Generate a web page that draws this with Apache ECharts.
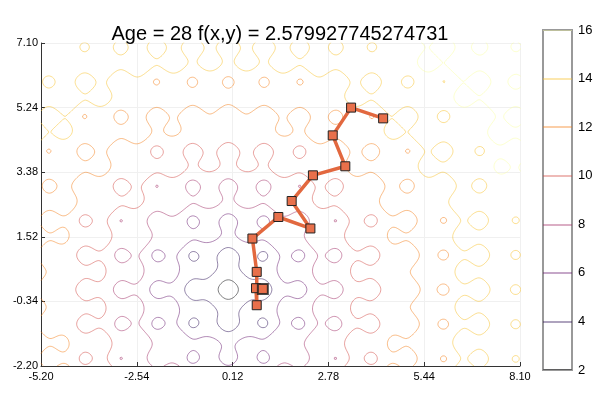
<!DOCTYPE html>
<html><head><meta charset="utf-8">
<script src="https://cdn.jsdelivr.net/npm/echarts@6/dist/echarts.min.js"></script>
<style>html,body{margin:0;padding:0;background:#fff}#c{width:600px;height:400px}</style>
</head><body><div id="c"></div>
<script>
// ---- data ----
const titleText = 'Age = 28 f(x,y) = 2.579927745274731';
const xRange = [-5.2, 8.1];
const yRange = [-2.2, 7.1];
const xInterval = 2.66;
const yInterval = 1.86;
const levels = [2, 4, 6, 8, 10, 12, 14, 16];
const levelColors = ['#000004', '#280b53', '#65156e', '#9f2a63', '#d44842', '#f57d15', '#fac228', '#fcffa4'];
// optimisation path, in visiting order
const pathX = [4.30, 3.41, 2.90, 3.25, 2.35, 1.76, 2.28, 1.39, 0.67, 0.79, 0.79, 0.77, 0.96];
const pathY = [4.93, 5.24, 4.44, 3.55, 3.29, 2.55, 1.76, 2.09, 1.47, 0.51, -0.45, 0.04, 0.02];

// surface: Ackley function
function ackley(x, y) {
  return -20 * Math.exp(-0.2 * Math.sqrt(0.5 * (x * x + y * y)))
    - Math.exp(0.5 * (Math.cos(2 * Math.PI * x) + Math.cos(2 * Math.PI * y))) + Math.E + 20;
}

// ---- contouring (marching squares) ----
const step = 0.04;
const nx = Math.round((xRange[1] - xRange[0]) / step) + 1;
const ny = Math.round((yRange[1] - yRange[0]) / step) + 1;
const gx = [], gy = [];
for (let i = 0; i < nx; i++) gx.push(xRange[0] + i * step);
for (let j = 0; j < ny; j++) gy.push(yRange[0] + j * step);
const F = new Float64Array(nx * ny);
for (let j = 0; j < ny; j++) for (let i = 0; i < nx; i++) F[j * nx + i] = ackley(gx[i], gy[j]);

function contour(L) {
  const pts = new Map();
  const segs = [];
  function edgePoint(key, x1, y1, v1, x2, y2, v2) {
    if (!pts.has(key)) {
      const t = (L - v1) / (v2 - v1);
      pts.set(key, [x1 + t * (x2 - x1), y1 + t * (y2 - y1)]);
    }
    return key;
  }
  for (let j = 0; j < ny - 1; j++) {
    for (let i = 0; i < nx - 1; i++) {
      const v00 = F[j * nx + i], v10 = F[j * nx + i + 1], v01 = F[(j + 1) * nx + i], v11 = F[(j + 1) * nx + i + 1];
      const b00 = v00 < L, b10 = v10 < L, b01 = v01 < L, b11 = v11 < L;
      const k0 = (b00 !== b10) ? edgePoint((j * nx + i) * 2, gx[i], gy[j], v00, gx[i + 1], gy[j], v10) : null;
      const k1 = (b10 !== b11) ? edgePoint((j * nx + i + 1) * 2 + 1, gx[i + 1], gy[j], v10, gx[i + 1], gy[j + 1], v11) : null;
      const k2 = (b01 !== b11) ? edgePoint(((j + 1) * nx + i) * 2, gx[i], gy[j + 1], v01, gx[i + 1], gy[j + 1], v11) : null;
      const k3 = (b00 !== b01) ? edgePoint((j * nx + i) * 2 + 1, gx[i], gy[j], v00, gx[i], gy[j + 1], v01) : null;
      const ks = [k0, k1, k2, k3].filter(k => k !== null);
      if (ks.length === 2) segs.push([ks[0], ks[1]]);
      else if (ks.length === 4) {
        const c = (v00 + v10 + v01 + v11) / 4;
        if ((c < L) === b00) { segs.push([k0, k1]); segs.push([k2, k3]); }
        else { segs.push([k0, k3]); segs.push([k1, k2]); }
      }
    }
  }
  const adj = new Map();
  segs.forEach((s, idx) => s.forEach(k => { if (!adj.has(k)) adj.set(k, []); adj.get(k).push(idx); }));
  const used = new Uint8Array(segs.length);
  const lines = [];
  function walk(start) {
    const out = [];
    let cur = start;
    while (true) {
      const list = adj.get(cur);
      let nxt = -1;
      for (const q of list) if (!used[q]) { nxt = q; break; }
      if (nxt < 0) break;
      used[nxt] = 1;
      const s = segs[nxt];
      cur = (s[0] === cur) ? s[1] : s[0];
      out.push(cur);
    }
    return out;
  }
  for (let s = 0; s < segs.length; s++) {
    if (used[s]) continue;
    used[s] = 1;
    const fwd = walk(segs[s][1]);
    const back = walk(segs[s][0]);
    const keys = back.reverse().concat([segs[s][0], segs[s][1]]).concat(fwd);
    lines.push(keys.map(k => pts.get(k)));
  }
  return lines;
}

const series = [];
levels.forEach((L, li) => {
  const lines = contour(L);
  series.push({
    type: 'lines', coordinateSystem: 'cartesian2d', xAxisIndex: 0, yAxisIndex: 0,
    polyline: true, silent: true, z: 2,
    lineStyle: { color: levelColors[li], width: 1, opacity: 0.5 },
    data: lines.map(c => ({ coords: c }))
  });
});

// colorbar level lines
series.push({
  type: 'lines', coordinateSystem: 'cartesian2d', xAxisIndex: 1, yAxisIndex: 1,
  polyline: false, silent: true, z: 3,
  data: levels.map((L, li) => ({ coords: [[0, L], [1, L]], lineStyle: { color: levelColors[li], width: 1.5, opacity: 0.5 } }))
});

const pathData = pathX.map((x, i) => [x, pathY[i]]);
series.push({
  type: 'line', xAxisIndex: 0, yAxisIndex: 0, z: 5,
  data: pathData,
  lineStyle: { color: '#e2683f', width: 3.5 },
  symbol: 'rect', symbolSize: 9, showAllSymbol: true,
  itemStyle: { color: '#e8704b', borderColor: '#222', borderWidth: 1 },
  silent: true
});
series.push({
  type: 'scatter', xAxisIndex: 0, yAxisIndex: 0, z: 6,
  data: [pathData[pathData.length - 1]],
  symbol: 'rect', symbolSize: 10,
  itemStyle: { color: '#e8704b', borderColor: '#222', borderWidth: 2 },
  silent: true
});

const font = 'Liberation Sans, Arial, sans-serif';
const chart = echarts.init(document.getElementById('c'), null, { renderer: 'canvas' });
chart.setOption({
  animation: false,
  backgroundColor: '#fff',
  title: { text: titleText, left: 275, textAlign: 'center', top: 19,
    textStyle: { fontSize: 20, fontWeight: 'normal', color: '#000', fontFamily: font } },
  grid: [
    { left: 41, right: 80, top: 43, bottom: 34, show: false },
    { left: 543, width: 29, top: 30, bottom: 30, show: true, borderColor: '#999', borderWidth: 2, backgroundColor: '#fff' }
  ],
  xAxis: [
    { type: 'value', gridIndex: 0, min: xRange[0], max: xRange[1], interval: xInterval,
      axisLine: { show: true, onZero: false, lineStyle: { color: '#333', width: 1 } },
      axisTick: { show: true, inside: true, length: 4, lineStyle: { color: '#333' } },
      axisLabel: { color: '#000', fontSize: 11, margin: 5, fontFamily: font, formatter: v => v.toFixed(2) },
      splitLine: { show: true, lineStyle: { color: '#f0f0f0', width: 1 } } },
    { type: 'value', gridIndex: 1, min: 0, max: 1, show: false }
  ],
  yAxis: [
    { type: 'value', gridIndex: 0, min: yRange[0], max: yRange[1], interval: yInterval,
      axisLine: { show: true, onZero: false, lineStyle: { color: '#333', width: 1 } },
      axisTick: { show: true, inside: true, length: 4, lineStyle: { color: '#333' } },
      axisLabel: { color: '#000', fontSize: 11, margin: 3, fontFamily: font, formatter: v => v.toFixed(2) },
      splitLine: { show: true, lineStyle: { color: '#f0f0f0', width: 1 } } },
    { type: 'value', gridIndex: 1, min: levels[0], max: levels[levels.length - 1], interval: 2, position: 'right',
      axisLine: { show: false }, axisTick: { show: false }, splitLine: { show: false },
      axisLabel: { color: '#000', fontSize: 13, margin: 6, fontFamily: font } }
  ],
  series: series
});
</script>
</body></html>
